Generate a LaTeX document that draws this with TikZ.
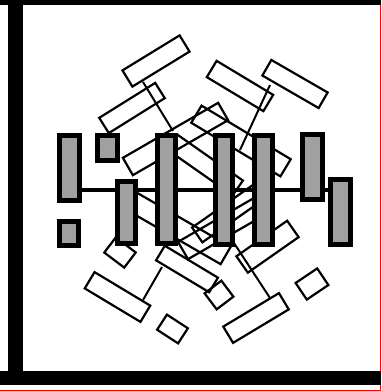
\documentclass[tikz,border=0pt]{standalone}
\definecolor{bargray}{RGB}{160,160,160}
\definecolor{edgemark}{RGB}{255,0,0}
\tikzset{
  wbox/.style={draw=black, line width=2.2pt, line join=miter},
  gbar/.style={draw=black, fill=bargray, line width=5pt, inner sep=0pt, outer sep=0pt},
  conn/.style={draw=black, line width=2pt},
  spine/.style={draw=black, line width=4pt},
  framebar/.style={fill=black}
}
\newcommand\rbox[5]{%
  \pgfmathsetmacro\rca{cos(#3)}%
  \pgfmathsetmacro\rsa{sin(#3)}%
  \pgfmathsetmacro\rlx{#4/2*\rca}%
  \pgfmathsetmacro\rly{#4/2*\rsa}%
  \pgfmathsetmacro\rwx{-#5/2*\rsa}%
  \pgfmathsetmacro\rwy{#5/2*\rca}%
  \draw[wbox] ({#1+(\rlx)+(\rwx)},{#2+(\rly)+(\rwy)}) -- ({#1+(\rlx)-(\rwx)},{#2+(\rly)-(\rwy)}) -- ({#1-(\rlx)-(\rwx)},{#2-(\rly)-(\rwy)}) -- ({#1-(\rlx)+(\rwx)},{#2-(\rly)+(\rwy)}) -- cycle;}
\begin{document}
\begin{tikzpicture}[x=1pt,y=-1pt]
\fill[white] (0,0) rectangle (381,391);
\useasboundingbox (0,0) rectangle (381,391);
\fill[edgemark] (380,0) rectangle (381,391);
\fill[edgemark] (0,390) rectangle (381,391);
% frame
\fill[framebar] (0,0) rectangle (381,5);
\fill[framebar] (8,0) rectangle (23,385);
\fill[framebar] (0,371) rectangle (381,385);
% outer white boxes
\rbox{156}{61}{-31.5}{67}{19}
\rbox{132}{108}{-32}{66}{18}
\rbox{240}{86}{31}{66}{19}
\rbox{295}{84}{30}{65}{18}
\rbox{120}{252.5}{37}{25}{19}
\rbox{117.5}{297}{31}{65}{19}
\rbox{172.5}{329}{33}{25}{18}
\rbox{256}{318}{-31}{65}{19}
\rbox{312}{284}{-34}{26}{20}
\rbox{267.5}{246.7}{-35}{62}{20}
\rbox{219}{295}{-37}{21}{20}
\rbox{187}{269}{31}{62}{17}
% lattice boxes
\rbox{175.5}{139}{-30}{110}{20}
\rbox{241}{141}{31}{104}{20}
\rbox{178}{228}{30}{110}{20}
\rbox{222}{228}{-30}{90}{20}
\rbox{205}{165}{35}{80}{18}
\rbox{230}{212}{-35}{80}{18}
% connectors
\coordinate (c1a) at (143,82);  \coordinate (c1b) at (173,131);
\coordinate (c2a) at (270,85);  \coordinate (c2b) at (240,150);
\coordinate (c3a) at (143,300); \coordinate (c3b) at (162,267);
\coordinate (c4a) at (232,240); \coordinate (c4b) at (270,298);
\draw[conn] (c1a) -- (c1b);
\draw[conn] (c2a) -- (c2b);
\draw[conn] (c3a) -- (c3b);
\draw[conn] (c4a) -- (c4b);
% spine
\coordinate (s1) at (80,190); \coordinate (s2) at (330,190);
\draw[spine] (s1) -- (s2);
% gray bars
\node[gbar, minimum width=20pt, minimum height=65pt]  (A) at (69.5,168) {};
\node[gbar, minimum width=20pt, minimum height=25pt]  (B) at (107.5,148) {};
\node[gbar, minimum width=19pt, minimum height=24pt]  (C) at (69,233.5) {};
\node[gbar, minimum width=18pt, minimum height=62pt]  (D) at (126.5,212.5) {};
\node[gbar, minimum width=18pt, minimum height=108pt] (E) at (166.5,189.5) {};
\node[gbar, minimum width=17pt, minimum height=109pt] (F) at (224,190) {};
\node[gbar, minimum width=18pt, minimum height=109pt] (G) at (263.5,190) {};
\node[gbar, minimum width=20pt, minimum height=65pt]  (H) at (312.5,167) {};
\node[gbar, minimum width=20pt, minimum height=65pt]  (I) at (340.5,212) {};
\end{tikzpicture}
\end{document}
